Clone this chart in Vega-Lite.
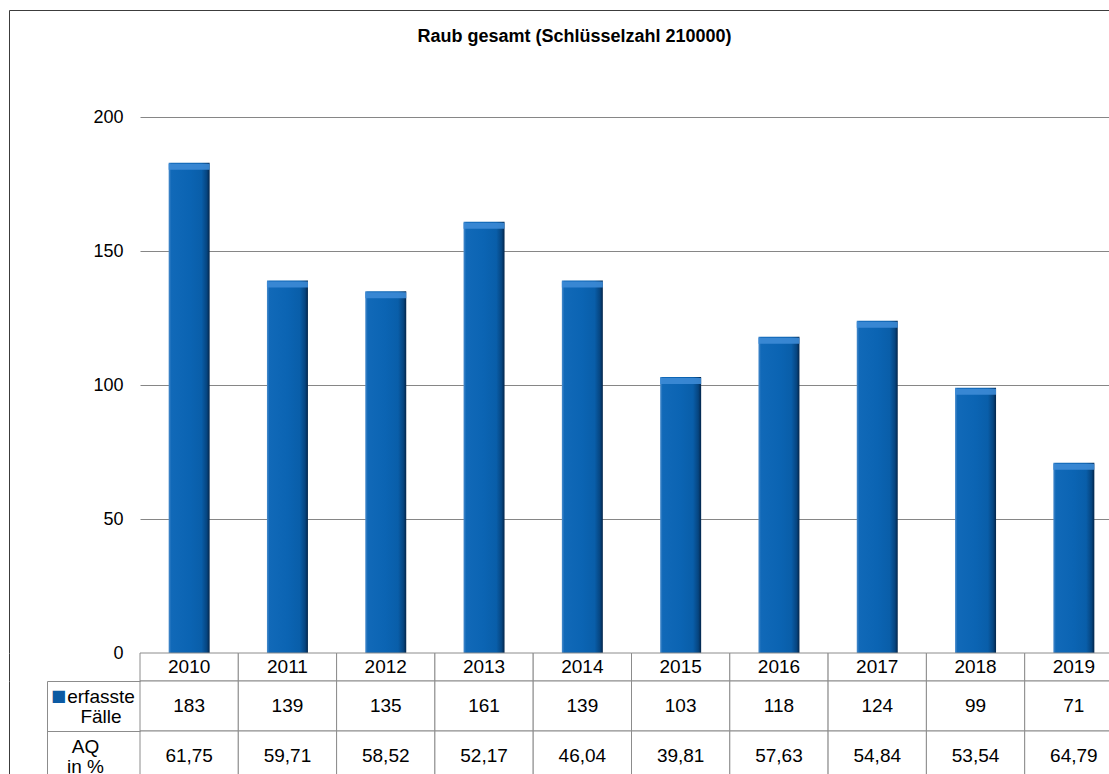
{
  "$schema": "https://vega.github.io/schema/vega-lite/v6.json",
  "background": "white",
  "padding": {"left": 8, "top": 9, "right": 0, "bottom": 0},
  "autosize": {"type": "pad"},
  "config": {
    "view": {"stroke": null},
    "font": "Liberation Sans",
    "concat": {"spacing": 0},
    "axis": {"labelFont": "Liberation Sans", "labelColor": "#000000"}
  },
  "data": {
    "values": [
      {"year": "2010", "faelle": 183, "erfasste Fälle": 183, "AQ in %": "61,75"},
      {"year": "2011", "faelle": 139, "erfasste Fälle": 139, "AQ in %": "59,71"},
      {"year": "2012", "faelle": 135, "erfasste Fälle": 135, "AQ in %": "58,52"},
      {"year": "2013", "faelle": 161, "erfasste Fälle": 161, "AQ in %": "52,17"},
      {"year": "2014", "faelle": 139, "erfasste Fälle": 139, "AQ in %": "46,04"},
      {"year": "2015", "faelle": 103, "erfasste Fälle": 103, "AQ in %": "39,81"},
      {"year": "2016", "faelle": 118, "erfasste Fälle": 118, "AQ in %": "57,63"},
      {"year": "2017", "faelle": 124, "erfasste Fälle": 124, "AQ in %": "54,84"},
      {"year": "2018", "faelle": 99, "erfasste Fälle": 99, "AQ in %": "53,54"},
      {"year": "2019", "faelle": 71, "erfasste Fälle": 71, "AQ in %": "64,79"}
    ]
  },
  "spacing": 0,
  "bounds": "flush",
  "resolve": {"scale": {"x": "independent", "y": "independent"}},
  "vconcat": [
    {
      "width": 983,
      "height": 643,
      "title": {
        "text": "Raub gesamt (Schlüsselzahl 210000)",
        "fontSize": 18,
        "fontWeight": "bold",
        "font": "Liberation Sans",
        "color": "#000000",
        "offset": -36,
        "dx": -57,
        "anchor": "middle"
      },
      "encoding": {
        "x": {
          "field": "year",
          "type": "ordinal",
          "scale": {"paddingInner": 0.583, "paddingOuter": 0.2915},
          "axis": null
        }
      },
      "layer": [
        {
          "mark": {
            "type": "bar",
            "color": {
              "gradient": "linear",
              "x1": 0, "x2": 1, "y1": 0, "y2": 0,
              "stops": [
                {"offset": 0, "color": "#4a8ccc"},
                {"offset": 0.06, "color": "#1169b8"},
                {"offset": 0.5, "color": "#0b64b3"},
                {"offset": 0.8, "color": "#095ea9"},
                {"offset": 0.93, "color": "#064580"},
                {"offset": 1, "color": "#03254a"}
              ]
            }
          },
          "encoding": {
            "y": {
              "field": "faelle",
              "type": "quantitative",
              "scale": {"domain": [0, 240], "nice": false},
              "axis": {
                "orient": "left",
                "title": null,
                "values": [0, 50, 100, 150, 200],
                "grid": true,
                "gridColor": "#868686",
                "domain": false,
                "ticks": false,
                "labelPadding": 17,
                "labelFontSize": 18
              }
            }
          }
        },
        {
          "mark": {"type": "tick", "orient": "horizontal", "size": 41, "thickness": 6, "yOffset": 4, "color": "#3d8bd6", "opacity": 0.9},
          "encoding": {
            "y": {"field": "faelle", "type": "quantitative", "scale": {"domain": [0, 240], "nice": false}, "axis": null}
          }
        },
        {
          "mark": {"type": "bar", "opacity": 0},
          "encoding": {
            "y": {
              "field": "faelle",
              "type": "quantitative",
              "scale": {"domain": [0, 240], "nice": false},
              "axis": {
                "orient": "left",
                "offset": 131,
                "title": null,
                "labels": false,
                "grid": false,
                "domain": true,
                "domainColor": "#3c3c3c",
                "ticks": true,
                "values": [240],
                "tickSize": -1114,
                "tickColor": "#3c3c3c"
              }
            }
          }
        }
      ],
      "resolve": {"axis": {"y": "independent"}}
    },
    {
      "width": 983,
      "height": 28,
      "encoding": {
        "x": {"field": "year", "type": "ordinal", "axis": null, "scale": {"paddingInner": 0, "paddingOuter": 0}},
        "y": {
          "datum": "Jahr",
          "type": "nominal",
          "scale": {"paddingInner": 0, "paddingOuter": 0},
          "axis": {
            "orient": "left",
            "offset": 131,
            "title": null,
            "domain": true,
            "domainColor": "#3c3c3c",
            "ticks": false,
            "labels": false,
            "grid": false
          }
        }
      },
      "layer": [
        {"mark": {"type": "rect", "fill": "#ffffff", "stroke": "#8c8c8c", "strokeWidth": 1}},
        {
          "mark": {"type": "text", "fontSize": 19, "font": "Liberation Sans", "color": "#000000"},
          "encoding": {"text": {"field": "year"}}
        }
      ]
    },
    {
      "width": 983,
      "height": 100,
      "transform": [{"fold": ["erfasste Fälle", "AQ in %"], "as": ["row", "val"]}],
      "encoding": {
        "x": {"field": "year", "type": "ordinal", "axis": null, "scale": {"paddingInner": 0, "paddingOuter": 0}}
      },
      "layer": [
        {
          "mark": {"type": "rect", "fill": "#ffffff", "stroke": "#8c8c8c", "strokeWidth": 1},
          "encoding": {
            "y": {
              "field": "row",
              "type": "nominal",
              "sort": ["erfasste Fälle", "AQ in %"],
              "scale": {"paddingInner": 0, "paddingOuter": 0},
              "axis": {
                "orient": "left",
                "title": null,
                "domain": false,
                "ticks": true,
                "tickBand": "extent",
                "tickSize": 93,
                "tickColor": "#8c8c8c",
                "labelExpr": "datum.value == 'erfasste Fälle' ? ['erfasste', 'Fälle'] : (datum.value == 'AQ in %' ? ['AQ', 'in %'] : '')",
                "labelAlign": "center",
                "labelBaseline": "middle",
                "labelFontSize": 19,
                "labelLineHeight": 20,
                "labelOffset": -10,
                "labelPadding": {"condition": {"test": "datum.value == 'erfasste Fälle'", "value": -53.5}, "value": -38}
              }
            }
          }
        },
        {
          "mark": {"type": "text", "fontSize": 19, "font": "Liberation Sans", "color": "#000000"},
          "encoding": {
            "y": {"field": "row", "type": "nominal", "sort": ["erfasste Fälle", "AQ in %"], "scale": {"paddingInner": 0, "paddingOuter": 0}, "axis": null},
            "text": {"field": "val"}
          }
        },
        {
          "mark": {"type": "text", "opacity": 0},
          "encoding": {
            "y": {
              "field": "row",
              "type": "nominal",
              "sort": ["erfasste Fälle", "AQ in %"],
              "scale": {"paddingInner": 0, "paddingOuter": 0},
              "axis": {
                "orient": "left",
                "offset": 93,
                "title": null,
                "domain": true,
                "domainColor": "#8c8c8c",
                "ticks": false,
                "grid": false,
                "labelExpr": "datum.value == 'erfasste Fälle' ? '■' : ''",
                "labelFont": "DejaVu Sans",
                "labelFontSize": 16,
                "labelColor": "#0b5aa3",
                "labelAlign": "center",
                "labelBaseline": "middle",
                "labelPadding": -11,
                "labelOffset": -10
              }
            },
            "text": {"field": "val"}
          }
        },
        {
          "mark": {"type": "text", "opacity": 0},
          "encoding": {
            "y": {
              "field": "row",
              "type": "nominal",
              "sort": ["erfasste Fälle", "AQ in %"],
              "scale": {"paddingInner": 0, "paddingOuter": 0},
              "axis": {
                "orient": "left",
                "offset": 131,
                "title": null,
                "domain": true,
                "domainColor": "#3c3c3c",
                "ticks": false,
                "labels": false,
                "grid": false
              }
            },
            "text": {"field": "val"}
          }
        }
      ],
      "resolve": {"axis": {"y": "independent"}}
    }
  ]
}
